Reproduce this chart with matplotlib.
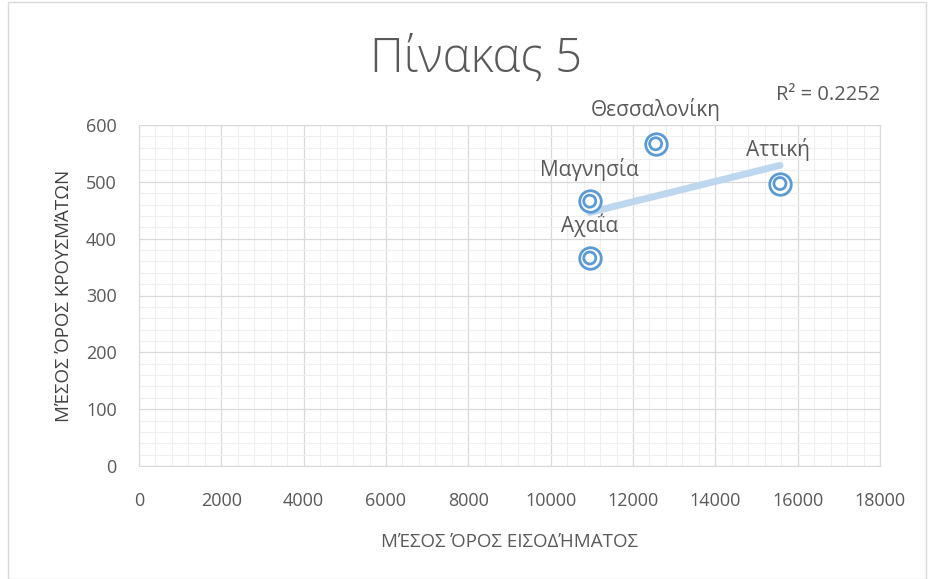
import matplotlib
matplotlib.use('Agg')
import matplotlib.pyplot as plt
import numpy as np
from matplotlib.ticker import MultipleLocator

# average income vs average cases per region
regions = ['Μαγνησία', 'Αχαΐα', 'Θεσσαλονίκη', 'Αττική']
income = [10950, 10950, 12550, 15570]
cases = [466, 366, 567, 497]
r2_text = 'R² = 0.2252'

blue = '#5b9bd5'
grey = '#595959'

plt.rcParams['font.family'] = ['Open Sans', 'DejaVu Sans']

fig = plt.figure(figsize=(9.34, 5.79), dpi=100)
ax = fig.add_axes([139 / 934, 1 - 466 / 579, 741 / 934, 341 / 579])

ax.set_xlim(0, 18000)
ax.set_ylim(0, 600)
ax.xaxis.set_major_locator(MultipleLocator(2000))
ax.xaxis.set_minor_locator(MultipleLocator(400))
ax.yaxis.set_major_locator(MultipleLocator(100))
ax.yaxis.set_minor_locator(MultipleLocator(20))
ax.grid(which='major', color='#d9d9d9', lw=0.9)
ax.grid(which='minor', color='#efefef', lw=0.8)
ax.set_axisbelow(True)
for s in ax.spines.values():
    s.set_color('#d9d9d9')
ax.tick_params(which='both', length=0, colors=grey, labelsize=13)
ax.tick_params(axis='x', pad=19)
ax.tick_params(axis='y', pad=16)

# linear trendline
x = np.array(income, dtype=float)
y = np.array(cases, dtype=float)
k, b = np.polyfit(x, y, 1)
xt = np.array([x.min(), x.max()])
ax.plot(xt, k * xt + b, color='#bdd7ee', lw=5, solid_capstyle='round', zorder=2)

# double-ring markers
ax.scatter(income, cases, s=240, facecolors='white', edgecolors=blue, linewidths=2, zorder=3)
ax.scatter(income, cases, s=75, facecolors='none', edgecolors=blue, linewidths=2, zorder=4)

offsets = {'Μαγνησία': (0, 55), 'Αχαΐα': (0, 58), 'Θεσσαλονίκη': (0, 60), 'Αττική': (-50, 60)}
for name, xi, yi in zip(regions, income, cases):
    dx, dy = offsets[name]
    ax.text(xi + dx, yi + dy, name, ha='center', va='center', fontsize=15, color=grey)

fig.text(828 / 934, 1 - 95 / 579, r2_text, ha='center', va='center', fontsize=14.5, color=grey)

fig.text(476 / 934, 1 - 60 / 579, 'Πίνακας 5', ha='center', va='center', fontsize=34, color=grey, fontweight='light')

ax.set_xlabel('ΜΈΣΟΣ ΌΡΟΣ ΕΙΣΟΔΉΜΑΤΟΣ', fontsize=13.5, color=grey, labelpad=16)
ax.set_ylabel('ΜΈΣΟΣ ΌΡΟΣ ΚΡΟΥΣΜΆΤΩΝ', fontsize=13.5, color='#404040', labelpad=9)

# chart frame
fig.patches.append(plt.Rectangle((8 / 934, 0), 1 - 16 / 934, 1 - 2 / 579, transform=fig.transFigure,
                                 fill=False, edgecolor='#d9d9d9', lw=1))

fig.savefig('out.png', dpi=100)
